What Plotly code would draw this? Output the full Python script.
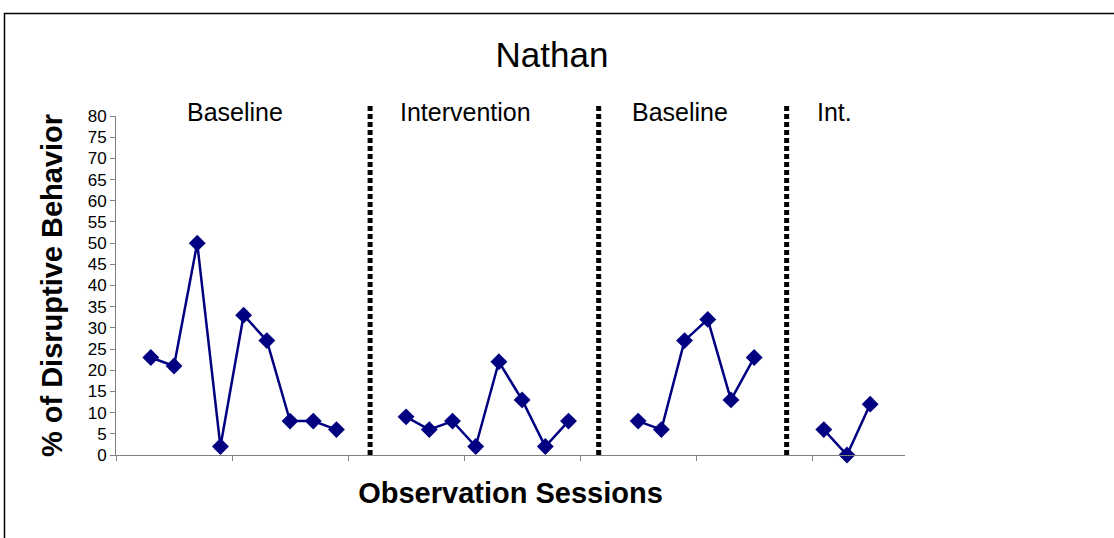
import plotly.graph_objects as go

# Data
baseline1 = [23, 21, 50, 2, 33, 27, 8, 8, 6]
intervention1 = [9, 6, 8, 2, 22, 13, 2, 8]
baseline2 = [8, 6, 27, 32, 13, 23]
intervention2 = [6, 0, 12]

# session positions (category index on the axis)
sess_b1 = list(range(2, 11))
sess_i1 = list(range(13, 21))
sess_b2 = list(range(23, 29))
sess_i2 = list(range(31, 34))

phase_labels = ["Baseline", "Intervention", "Baseline", "Int."]
phase_label_x = [3.47, 12.65, 22.65, 30.62]
phase_lines_x = [11.45, 21.3, 29.4]

y_ticks = list(range(0, 85, 5))
x_ticks = [0.5, 5.5, 10.5, 15.5, 20.5, 25.5, 30.5]

navy = "#000080"
font = "Liberation Sans, Arial, sans-serif"

W, H = 1114, 538
L, R, T, B = 116, 905, 116, 455


def px2paper_x(p):
    return (p - L) / (R - L)


def px2paper_y(p):
    return (B - p) / (B - T)


fig = go.Figure()
for xs, ys in [(sess_b1, baseline1), (sess_i1, intervention1),
               (sess_b2, baseline2), (sess_i2, intervention2)]:
    fig.add_trace(go.Scatter(
        x=xs, y=ys, mode="lines+markers",
        line=dict(color=navy, width=2.5),
        marker=dict(symbol="diamond", size=13, color=navy),
        cliponaxis=False, showlegend=False, hoverinfo="skip"))

shapes = []
for lx in phase_lines_x:
    shapes.append(dict(type="line", xref="x", yref="paper", x0=lx, x1=lx,
                       y0=0, y1=px2paper_y(103),
                       line=dict(color="black", width=5, dash="5px,3px")))
# outer chart border
shapes.append(dict(type="rect", xref="paper", yref="paper",
                   x0=px2paper_x(4.5), x1=px2paper_x(1125),
                   y0=px2paper_y(560), y1=px2paper_y(13.5),
                   line=dict(color="black", width=1.5), layer="below"))

annotations = []
for txt, ax in zip(phase_labels, phase_label_x):
    annotations.append(dict(text=txt, x=ax, xref="x", y=px2paper_y(112),
                            yref="paper", xanchor="left", yanchor="middle",
                            showarrow=False,
                            font=dict(family=font, size=25, color="black")))

fig.update_layout(
    width=W, height=H,
    margin=dict(l=L, r=W - R, t=T, b=H - B, pad=0),
    paper_bgcolor="white", plot_bgcolor="white",
    title=dict(text="Nathan", x=552 / W, xanchor="center",
               y=1 - 55 / H, yanchor="middle",
               font=dict(family=font, size=35, color="black")),
    shapes=shapes, annotations=annotations,
    font=dict(family=font, color="black"),
)
fig.update_xaxes(
    range=[0.5, 34.5], showgrid=False, zeroline=False,
    showline=True, linecolor="#808080", linewidth=1,
    tickmode="array", tickvals=x_ticks, showticklabels=False,
    ticks="outside", ticklen=5, tickcolor="#808080",
    title=dict(text="<b>Observation Sessions</b>", standoff=22,
               font=dict(family=font, size=29, color="black")),
)
fig.update_yaxes(
    range=[0, 80], showgrid=False, zeroline=False,
    showline=True, linecolor="#808080", linewidth=1,
    tickmode="array", tickvals=y_ticks,
    ticks="outside", ticklen=5, tickcolor="#808080",
    tickfont=dict(family=font, size=17, color="black"),
    title=dict(text="<b>% of Disruptive Behavior</b>", standoff=16,
               font=dict(family=font, size=29, color="black")),
)

fig.write_html("out.html",
               config={"displayModeBar": False},
               post_script="document.body.style.margin='0';"
                           "document.body.style.overflow='hidden';")
